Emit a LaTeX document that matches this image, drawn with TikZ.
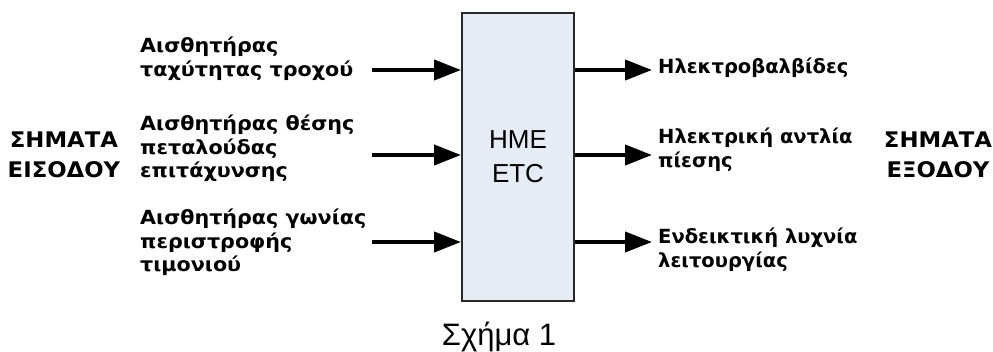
\documentclass[tikz,border=0pt]{standalone}
\usepackage{fontspec}
\setmainfont{Liberation Sans}
\newfontfamily\labfont[FakeStretch=1.06]{DejaVu Sans}
\newfontfamily\rlabfont[FakeStretch=1.0]{DejaVu Sans}
\usetikzlibrary{arrows.meta}
\definecolor{boxfill}{RGB}{230,236,246}
\definecolor{boxline}{RGB}{40,40,40}
\tikzset{
  lab/.style={anchor=north west, inner sep=0pt, align=left, font=\labfont\bfseries\fontsize{19.5}{23.5}\selectfont},
  rlab/.style={anchor=north west, inner sep=0pt, align=left, font=\rlabfont\bfseries\fontsize{19.5}{23.5}\selectfont},
  side/.style={inner sep=0pt, align=center, font=\labfont\bfseries\fontsize{21.5}{30}\selectfont},
  arr/.style={line width=4pt, -{Triangle[length=27pt,width=20pt]}},
}
\begin{document}
\begin{tikzpicture}[x=1pt,y=-1pt]
\useasboundingbox (0,0) rectangle (993,351);
\node[draw=boxline, line width=2pt, fill=boxfill, minimum width=112pt, minimum height=288pt, inner sep=0pt, anchor=north west,
  align=center, font=\fontsize{26}{34}\selectfont] (ecu) at (461,12) {HME\\ETC};
% inputs
\coordinate (i1) at (372,70);
\coordinate (i2) at (372,155);
\coordinate (i3) at (372,242);
\draw[arr] (i1) -- (ecu.west |- i1);
\draw[arr] (i2) -- (ecu.west |- i2);
\draw[arr] (i3) -- (ecu.west |- i3);
% outputs
\coordinate (o1) at (652,70);
\coordinate (o2) at (652,155);
\coordinate (o3) at (652,242);
\draw[arr] (ecu.east |- o1) -- (o1);
\draw[arr] (ecu.east |- o2) -- (o2);
\draw[arr] (ecu.east |- o3) -- (o3);
% labels
\node[lab] (l1) at (140,37) {Αισθητήρας\\ταχύτητας τροχού};
\node[lab] (l2) at (140,115) {Αισθητήρας θέσης\\πεταλούδας\\επιτάχυνσης};
\node[lab] (l3) at (140,209) {Αισθητήρας γωνίας\\περιστροφής\\τιμονιού};
\node[rlab] (r1) at (658,58) {Ηλεκτροβαλβίδες};
\node[rlab] (r2) at (658,128) {Ηλεκτρική αντλία\\πίεσης};
\node[rlab] (r3) at (658,228) {Ενδεικτική λυχνία\\λειτουργίας};
\node[side] (sin) at (64,155) {ΣΗΜΑΤΑ\\ΕΙΣΟΔΟΥ};
\node[side] (sout) at (938,155) {ΣΗΜΑΤΑ\\ΕΞΟΔΟΥ};
\node[anchor=base, inner sep=0pt, font=\fontsize{31}{31}\selectfont] (cap) at (499,345) {Σχήμα 1};
\end{tikzpicture}
\end{document}
